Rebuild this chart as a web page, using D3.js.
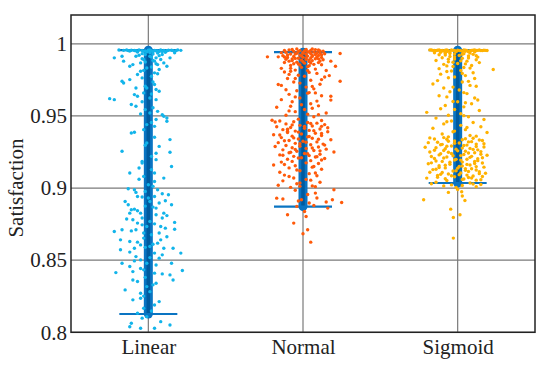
<!DOCTYPE html>
<html><head><meta charset="utf-8">
<script src="https://cdn.jsdelivr.net/npm/d3@7/dist/d3.min.js"></script>
<style>body{margin:0;background:#fff}svg{display:block}</style>
</head><body>
<script>
const categories = ["Linear", "Normal", "Sigmoid"];
const yTicks = [0.8, 0.85, 0.9, 0.95, 1];
const yLabel = "Satisfaction";
const capLow = [0.8127, 0.8872, 0.9035];
const capHigh = [0.9956, 0.9942, 0.9956];
const dotColors = ["#12b4ea", "#ff5a0a", "#ffb200"];

// [value, horizontal jitter in category units]
const linearPoints = [
[0.9957,-0.19],[0.9955,-0.16],[0.9953,-0.13],[0.9956,-0.11],[0.9952,-0.08],[0.9957,-0.06],[0.9954,-0.04],[0.9951,-0.02],[0.9956,0.0],[0.9953,0.02],[0.9955,0.04],[0.9950,0.06],[0.9957,0.08],[0.9954,0.10],[0.9952,0.12],[0.9956,0.15],[0.9953,0.18],[0.9955,0.21],[0.9948,-0.03],[0.9945,0.03],[0.9946,0.07],[0.9943,-0.07],[0.9940,0.01],[0.9942,0.11],
[0.9914,-0.17],[0.9903,-0.22],[0.988,-0.16],[0.9845,-0.12],[0.9856,-0.10],[0.9868,-0.05],[0.988,0.04],[0.9891,0.08],[0.9868,0.10],[0.9845,0.12],[0.9822,0.07],[0.9775,0.02],[0.9787,-0.07],[0.9752,-0.12],
[0.9926,-0.02],[0.9914,0.01],[0.9903,0.05],[0.9891,-0.03],[0.9856,0.06],[0.9833,-0.01],[0.981,-0.05],[0.9799,0.04],[0.9926,0.09],[0.9914,-0.08],[0.9903,0.14],[0.9938,0.17],
[0.9741,-0.17],[0.9729,-0.16],[0.9694,-0.08],[0.9694,-0.01],[0.9718,0.04],[0.9671,0.07],[0.962,-0.25],[0.9613,-0.22],[0.9648,-0.09],[0.9637,-0.07],[0.9613,0.05],[0.966,-0.03],[0.9625,0.01],
[0.9579,-0.11],[0.9567,-0.08],[0.9521,0.01],[0.9532,0.06],[0.9509,0.09],[0.9498,0.10],[0.9486,0.12],[0.9463,0.12],[0.9428,0.04],[0.9382,-0.11],[0.9387,-0.09],[0.944,-0.01],[0.9544,-0.02],[0.9475,0.05],
[0.9336,0.14],[0.9255,-0.17],[0.9248,0.14],[0.9197,0.05],[0.9139,-0.06],[0.915,0.15],[0.9104,-0.12],[0.9104,0.04],[0.9081,-0.03],[0.9069,0.10],[0.9046,0.04],[0.9023,0.0],[0.9312,-0.01],[0.922,0.02],[0.9174,-0.04],[0.9289,0.07],
[0.8988,-0.09],[0.897,-0.08],[0.8977,-0.02],[0.8988,0.06],[0.8907,-0.15],[0.885,-0.11],[0.8826,-0.12],[0.8854,-0.09],[0.8942,-0.07],[0.8931,0.0],[0.8942,0.04],[0.8907,0.01],[0.8896,0.07],[0.8954,0.13],[0.8884,0.15],[0.8826,-0.05],[0.8815,0.05],[0.8792,0.09],[0.8762,0.17],[0.8769,0.01],[0.878,-0.10],[0.8757,-0.07],[0.8734,-0.01],[0.8734,0.08],[0.8715,0.17],[0.8699,-0.22],[0.8711,-0.17],[0.8711,-0.08],[0.8688,-0.03],[0.8688,0.07],[0.8884,-0.13],[0.8861,0.05],[0.8826,0.10],[0.8792,-0.04],
[0.8641,-0.18],[0.863,-0.12],[0.8606,-0.05],[0.8595,0.01],[0.8618,0.06],[0.8583,0.10],[0.8583,-0.09],[0.8549,0.04],[0.8572,-0.18],[0.8583,0.16],[0.8549,0.21],[0.8525,-0.08],[0.8502,-0.05],[0.8479,-0.01],[0.8514,0.07],[0.8479,0.15],[0.8479,-0.17],[0.8456,-0.12],[0.8641,0.08],[0.8653,-0.03],
[0.8414,-0.21],[0.8421,-0.10],[0.8433,-0.03],[0.841,0.04],[0.8398,0.14],[0.8363,0.16],[0.8363,-0.10],[0.8352,-0.07],[0.8294,-0.15],[0.8317,-0.01],[0.8271,-0.05],[0.834,0.05],[0.8428,0.22],[0.8236,-0.05],[0.8225,-0.10],
[0.8213,0.07],[0.8167,-0.03],[0.8132,-0.07],[0.8109,-0.01],[0.8063,-0.11],[0.8074,0.08],[0.8051,0.14],[0.8028,-0.05],[0.8028,0.04],[0.8039,-0.12],
[0.9958,-0.14],[0.9954,-0.09],[0.9957,0.01],[0.9951,0.05],[0.9956,0.13],[0.9953,0.16],[0.9958,0.19],[0.9950,-0.12],[0.9947,0.09],[0.9944,-0.01],[0.9936,0.06],[0.9932,-0.04],[0.9929,0.03],[0.9921,-0.06],[0.9918,0.07],[0.9908,0.02],[0.9897,-0.04],[0.9885,0.03],[0.9874,-0.02],[0.9862,0.05],[0.9839,0.02],[0.9816,-0.03],[0.9793,0.06],[0.9764,-0.04],[0.9735,0.03],[0.9706,-0.02],[0.9683,0.05],[0.9652,0.02],[0.9598,-0.04],[0.9557,0.03],[0.9514,-0.05],[0.9455,0.02],[0.9405,-0.03],[0.9352,0.04],[0.9297,-0.02],[0.9241,0.05],[0.9185,-0.04],[0.9128,0.02],[0.9061,-0.06],[0.9012,0.03],[0.8995,-0.13],[0.8961,0.09],[0.8938,-0.04],[0.8912,0.11],[0.8875,-0.02],[0.8868,0.03],[0.8843,-0.07],[0.8809,0.12],[0.8786,-0.14],[0.8752,0.04],[0.8745,-0.04],[0.8722,0.11],[0.8703,-0.11],[0.8676,0.02],[0.8662,0.12],[0.8625,-0.07],[0.8611,0.03],[0.8589,-0.02],[0.8556,-0.12],[0.8537,0.09],[0.8518,0.01],[0.8495,-0.09],[0.8467,0.05],[0.8442,-0.05],[0.8405,0.09],[0.8381,-0.02],[0.8329,0.03],[0.8282,0.01],[0.8251,-0.03],[0.8189,0.04],[0.8148,0.02],[0.8098,-0.04]
];

const normalPoints = [
[0.9965,-0.04],[0.9962,0.02],[0.9960,0.08],[0.9958,-0.09],[0.9955,0.05],[0.9953,-0.02],[0.9950,0.11],[0.9948,-0.06],[0.9946,0.03],[0.9944,0.07],[0.9942,-0.11],[0.9940,0.0],[0.9938,0.09],[0.9935,-0.04],[0.9933,0.05],[0.9930,-0.08],[0.9928,0.02],[0.9925,0.12],[0.9922,-0.02],[0.9920,0.06],[0.9918,-0.13],[0.9915,0.03],[0.9912,-0.06],[0.9910,0.09],[0.9907,0.0],[0.9905,-0.10],[0.9902,0.05],[0.9900,-0.03],[0.9897,0.08],[0.9895,-0.07],[0.9892,0.02],[0.9890,0.13],[0.9887,-0.01],[0.9884,0.06],[0.9880,-0.09],[0.9877,0.04],[0.9873,-0.04],[0.9870,0.10],[0.9866,0.01],[0.9862,-0.06],[0.9858,0.07],[0.9853,-0.02],[0.9848,0.04],
[0.991,-0.23],[0.991,-0.16],[0.9933,0.24],[0.9845,0.21],[0.9741,0.24],[0.978,0.17],[0.9815,0.15],[0.983,-0.14],[0.988,0.18],[0.976,-0.05],
[0.9830,-0.08],[0.9815,0.03],[0.9805,-0.12],[0.9795,0.09],[0.9782,-0.03],[0.9770,0.14],[0.9760,-0.10],[0.9748,0.05],[0.9735,-0.06],[0.9720,0.11],[0.9712,-0.14],[0.9700,0.02],[0.9688,0.07],[0.9675,-0.04],[0.9662,0.04],[0.9660,0.08],[0.9650,-0.09],[0.9640,0.12],[0.9625,-0.02],[0.9610,0.18],[0.9598,-0.07],[0.9585,0.05],[0.9570,0.10],[0.9560,-0.17],[0.9545,0.01],[0.9530,-0.05],[0.9520,0.15],[0.9505,-0.11],[0.9495,0.07],
[0.9718,-0.16],[0.981,-0.08],[0.9613,-0.14],[0.9567,-0.08],[0.9637,0.18],[0.9509,0.10],[0.9428,0.12],[0.9394,-0.10],
[0.9470,-0.20],[0.9465,-0.15],[0.9460,-0.06],[0.9455,0.03],[0.9450,0.09],[0.9445,-0.11],[0.9440,0.14],[0.9435,-0.02],[0.9430,0.06],[0.9425,-0.17],[0.9420,-0.08],[0.9415,0.01],[0.9410,0.11],[0.9405,-0.13],[0.9400,0.04],[0.9395,-0.05],[0.9390,0.16],[0.9385,-0.10],[0.9380,0.08],[0.9375,-0.01],[0.9370,-0.19],[0.9365,0.12],[0.9360,-0.07],[0.9355,0.03],[0.9350,-0.14],[0.9345,0.06],[0.9340,-0.03],[0.9335,0.18],[0.9330,-0.09],[0.9325,0.00],[0.9320,0.09],[0.9315,-0.16],[0.9310,-0.05],[0.9305,0.13],[0.9300,0.05],[0.9295,-0.11],[0.9290,-0.02],[0.9285,0.10],[0.9280,-0.07],[0.9275,0.02],[0.9270,0.15],[0.9265,-0.13],[0.9260,0.07],[0.9255,-0.04],[0.9250,0.20],[0.9245,-0.09],[0.9240,0.01],[0.9235,0.11],[0.9230,-0.15],[0.9225,0.04],[0.9220,-0.06],[0.9215,0.08],[0.9210,-0.01],[0.9205,0.14],[0.9200,-0.10],
[0.9190,0.05],[0.9180,-0.14],[0.9170,0.10],[0.9160,-0.19],[0.9155,-0.05],[0.9150,0.07],[0.9140,-0.09],[0.9130,0.12],[0.9120,-0.02],[0.9110,-0.15],[0.9100,0.04],[0.9090,-0.12],[0.9085,0.09],[0.9070,-0.06],[0.9060,0.02],[0.9050,-0.13],[0.9040,0.11],[0.9030,-0.04],[0.9020,-0.16],[0.9010,0.08],[0.9005,-0.08],
[0.893,-0.17],[0.8924,-0.13],[0.8965,0.08],[0.8931,0.09],[0.8903,0.15],[0.9012,-0.02],[0.8815,-0.10],[0.8757,-0.06],[0.8803,0.02],[0.8711,0.03],[0.8683,0.0],[0.8625,0.05],[0.8873,-0.04],[0.8838,0.01],[0.8919,-0.01],[0.8896,0.04],[0.8919,0.19],[0.89,0.25],[0.8988,0.20],[0.8861,0.16],
[0.9964,0.06],[0.9961,-0.07],[0.9957,0.10],[0.9954,-0.12],[0.9951,0.01],[0.9949,0.13],[0.9947,-0.03],[0.9943,0.04],[0.9939,-0.14],[0.9936,0.11],[0.9934,0.00],[0.9931,0.14],[0.9929,-0.05],[0.9926,0.08],[0.9923,-0.10],[0.9919,0.10],[0.9916,-0.01],[0.9913,0.06],[0.9909,-0.12],[0.9906,0.12],[0.9903,0.02],[0.9899,-0.05],[0.9896,0.10],[0.9893,-0.11],[0.9889,0.04],[0.9885,-0.07],[0.9881,0.11],[0.9876,0.00],[0.9871,-0.12],[0.9867,0.05],[0.9860,-0.03],[0.9855,0.12],[0.9850,-0.08],[0.9842,0.03],[0.9837,-0.01],[0.9825,0.08],[0.9818,-0.05],[0.9802,0.04],[0.9788,-0.09],[0.9775,0.01],[0.9752,0.12],[0.9728,-0.02],[0.9705,0.06],[0.9682,-0.11],[0.9658,0.03],[0.9632,-0.05],[0.9603,0.09],[0.9578,-0.01],[0.9553,0.06],[0.9535,-0.09],[0.9512,0.03],
[0.9478,-0.03],[0.9468,0.12],[0.9458,-0.18],[0.9448,0.05],[0.9438,-0.07],[0.9428,0.01],[0.9418,0.16],[0.9408,-0.10],[0.9398,0.07],[0.9388,-0.03],[0.9378,0.12],[0.9368,-0.15],[0.9358,0.04],[0.9348,-0.06],[0.9338,0.10],[0.9328,-0.12],[0.9318,0.02],[0.9308,-0.02],[0.9298,0.14],[0.9288,-0.18],[0.9278,0.06],[0.9268,-0.05],[0.9258,0.11],[0.9248,-0.08],[0.9238,0.03],[0.9228,-0.13],[0.9218,0.09],[0.9208,-0.03],[0.9195,0.12],[0.9185,-0.07],[0.9175,0.02],[0.9163,-0.12],[0.9145,0.06],[0.9125,-0.04],[0.9105,0.08],[0.9080,-0.09],[0.9055,0.05],[0.9035,-0.02],[0.9015,0.06],[0.8985,-0.05],[0.8955,0.03],[0.8910,-0.03],[0.8880,0.07]
];

const sigmoidPoints = [
[0.9958,-0.18],[0.9955,-0.16],[0.9953,-0.14],[0.9957,-0.12],[0.9954,-0.10],[0.9956,-0.08],[0.9952,-0.06],[0.9957,-0.04],[0.9954,-0.02],[0.9956,0.0],[0.9953,0.02],[0.9957,0.04],[0.9955,0.06],[0.9952,0.08],[0.9956,0.10],[0.9954,0.12],[0.9957,0.14],[0.9953,0.16],[0.9955,0.18],[0.9950,-0.09],[0.9948,0.03],[0.9946,-0.01],[0.9945,0.07],[0.9943,-0.05],
[0.9938,-0.15],[0.9935,-0.08],[0.9932,0.04],[0.9930,-0.02],[0.9927,0.10],[0.9924,-0.12],[0.9920,0.01],[0.9916,0.07],[0.9912,-0.05],[0.9908,0.13],[0.9904,-0.10],[0.9900,0.03],[0.9895,-0.02],[0.9890,0.12],[0.9885,-0.14],[0.9880,0.06],[0.9875,-0.06],[0.9870,0.14],[0.9864,0.00],[0.9858,-0.09],[0.9850,0.09],[0.9843,-0.03],[0.9836,0.04],[0.9828,-0.12],[0.9822,0.23],[0.9815,0.02],[0.9808,-0.07],[0.9800,0.10],
[0.9790,-0.11],[0.9780,0.05],[0.9770,-0.02],[0.9760,0.11],[0.9745,-0.13],[0.9735,0.03],[0.9722,-0.16],[0.9712,0.08],[0.9706,0.12],[0.9694,-0.09],[0.9680,0.01],[0.9668,-0.05],[0.9655,0.06],[0.9640,-0.12],[0.9625,0.11],[0.9611,0.13],[0.9600,-0.03],[0.9598,0.0],[0.9585,0.09],[0.9572,-0.08],[0.9563,0.04],[0.9550,-0.11],[0.9538,0.14],[0.9525,-0.20],[0.9515,0.02],[0.9505,-0.06],
[0.9495,0.07],[0.9485,-0.14],[0.9475,0.17],[0.9465,-0.04],[0.9455,0.10],[0.9445,-0.09],[0.9435,0.02],[0.9425,0.15],[0.9415,-0.16],[0.9405,0.05],[0.9395,-0.02],[0.9385,0.19],[0.9375,-0.10],[0.9365,0.08],[0.9355,-0.06],
[0.9348,-0.18],[0.9342,0.05],[0.9338,-0.07],[0.9333,0.14],[0.9327,-0.02],[0.9322,0.09],[0.9318,-0.13],[0.9312,0.01],[0.9307,0.17],[0.9303,-0.10],[0.9298,0.06],[0.9292,-0.04],[0.9288,0.12],[0.9283,-0.21],[0.9277,0.03],[0.9273,-0.08],[0.9268,0.10],[0.9262,-0.15],[0.9258,0.0],[0.9253,0.15],[0.9248,-0.06],[0.9243,0.07],[0.9238,-0.11],[0.9233,0.04],[0.9228,0.19],[0.9224,-0.03],[0.9219,-0.17],[0.9213,0.08],[0.9208,-0.09],[0.9204,0.13],[0.9199,-0.01],[0.9194,0.02],[0.9188,-0.14],[0.9184,0.11],[0.9179,-0.05],[0.9174,0.16],[0.9169,-0.19],[0.9164,0.06],[0.9158,-0.08],[0.9153,0.03],[0.9149,0.12],[0.9143,-0.12],[0.9138,0.0],[0.9134,0.09],[0.9128,-0.16],[0.9123,0.05],[0.9118,-0.03],[0.9113,0.14],[0.9108,-0.10],[0.9103,0.18],[0.9098,-0.06],[0.9093,0.01],[0.9088,-0.13],[0.9084,0.10],[0.9078,-0.02],[0.9073,0.07],[0.9069,-0.20],[0.9063,0.04],[0.9058,0.15],[0.9053,-0.07],
[0.9040,-0.14],[0.9035,0.08],[0.9030,-0.17],[0.9028,0.10],[0.9025,0.15],[0.9022,-0.04],[0.9018,0.03],[0.9015,-0.09],[0.9010,0.12],[0.9005,-0.01],
[0.8975,0.026],[0.897,-0.06],[0.8919,-0.22],[0.8914,0.047],[0.8854,-0.045],[0.8815,0.015],[0.8796,-0.028],[0.8653,-0.028],[0.8990,0.0],[0.8945,0.03],
[0.9957,-0.17],[0.9954,-0.15],[0.9956,-0.13],[0.9953,-0.11],[0.9957,-0.07],[0.9955,-0.03],[0.9953,0.01],[0.9956,0.05],[0.9954,0.09],[0.9957,0.11],[0.9955,0.13],[0.9953,0.15],[0.9956,0.17],[0.9954,0.19],[0.9949,0.05],[0.9947,-0.07],[0.9944,0.11],[0.9941,-0.11],
[0.9937,0.08],[0.9933,-0.05],[0.9928,0.03],[0.9922,-0.08],[0.9917,0.12],[0.9910,-0.02],[0.9902,0.07],[0.9893,-0.06],[0.9882,0.02],[0.9872,-0.03],[0.9861,0.05],[0.9847,-0.07],[0.9832,0.08],[0.9812,-0.04],[0.9795,0.03],[0.9765,-0.06],[0.9740,0.07],[0.9700,-0.03],[0.9662,0.04],[0.9632,-0.07],[0.9592,0.05],[0.9545,-0.02],[0.9502,0.04],[0.9460,-0.07],[0.9420,0.06],[0.9390,-0.03],[0.9360,0.12],
[0.9350,-0.09],[0.9345,0.10],[0.9340,-0.15],[0.9335,0.03],[0.9330,0.16],[0.9325,-0.06],[0.9320,0.07],[0.9315,-0.19],[0.9310,-0.02],[0.9305,0.12],[0.9300,-0.11],[0.9295,0.04],[0.9290,-0.07],[0.9285,0.17],[0.9280,-0.14],[0.9275,0.08],[0.9270,-0.01],[0.9265,0.13],[0.9260,-0.09],[0.9255,0.05],[0.9250,-0.18],[0.9245,0.11],[0.9240,-0.04],[0.9235,0.15],[0.9230,-0.12],[0.9225,0.02],[0.9220,0.09],[0.9215,-0.07],[0.9210,0.16],[0.9205,-0.15],[0.9200,0.06],[0.9195,-0.02],[0.9190,0.13],[0.9185,-0.10],[0.9180,0.03],[0.9175,-0.17],[0.9170,0.11],[0.9165,-0.05],[0.9160,0.08],[0.9155,-0.12],[0.9150,0.01],[0.9145,0.17],[0.9140,-0.08],[0.9135,0.05],[0.9130,-0.14],[0.9125,0.12],[0.9120,-0.01],[0.9115,0.07],[0.9110,-0.18],[0.9105,0.02],[0.9100,0.14],[0.9095,-0.11],[0.9090,0.06],[0.9085,-0.04],[0.9080,0.16],[0.9075,-0.13],[0.9070,0.09],[0.9065,-0.08],[0.9060,0.03],[0.9055,0.12]
];
const groups = [linearPoints, normalPoints, sigmoidPoints];

const W = 550, H = 368;
const m = {left: 71, right: 535, top: 15, bottom: 332.3};
const serif = "'Times New Roman','Liberation Serif','DejaVu Serif',serif";

const svg = d3.select("body").append("svg").attr("width", W).attr("height", H);
const x = d3.scaleLinear().domain([0.5, 3.5]).range([m.left, m.right]);
const y = d3.scaleLinear().domain([0.8, 1.02]).range([m.bottom, m.top]);
const xc = i => x(i + 1);

// grid
const g = svg.append("g");
g.selectAll("line.gy").data(yTicks).join("line")
  .attr("x1", m.left).attr("x2", m.right)
  .attr("y1", d => y(d)).attr("y2", d => y(d))
  .attr("stroke", "#7a7a7a").attr("stroke-width", 1.2);
g.selectAll("line.gx").data(categories).join("line")
  .attr("x1", (d, i) => xc(i)).attr("x2", (d, i) => xc(i))
  .attr("y1", m.top).attr("y2", m.bottom)
  .attr("stroke", "#7a7a7a").attr("stroke-width", 1.2);

// range bars
const bars = svg.append("g");
categories.forEach((c, i) => {
  bars.append("line").attr("x1", xc(i)).attr("x2", xc(i))
    .attr("y1", y(capLow[i])).attr("y2", y(capHigh[i]))
    .attr("stroke", "#0a74c2").attr("stroke-width", 9).attr("stroke-linecap", "round");
  bars.append("line").attr("x1", xc(i)).attr("x2", xc(i))
    .attr("y1", y(capLow[i])).attr("y2", y(capHigh[i]))
    .attr("stroke", "#005a9e").attr("stroke-width", 3.5);
  [capLow[i], capHigh[i]].forEach(v => {
    bars.append("line").attr("x1", x(i + 1 - 0.1875)).attr("x2", x(i + 1 + 0.1875))
      .attr("y1", y(v)).attr("y2", y(v))
      .attr("stroke", "#0a74c2").attr("stroke-width", 2.2);
  });
});

// dots
groups.forEach((pts, i) => {
  svg.append("g").selectAll("circle").data(pts).join("circle")
    .attr("cx", d => x(i + 1 + d[1]))
    .attr("cy", d => y(d[0]))
    .attr("r", 1.7)
    .attr("fill", dotColors[i]);
});

// box
svg.append("rect").attr("x", m.left).attr("y", m.top)
  .attr("width", m.right - m.left).attr("height", m.bottom - m.top)
  .attr("fill", "none").attr("stroke", "#222").attr("stroke-width", 1.5);

// axes
const yAxis = d3.axisLeft(y).tickValues(yTicks).tickSize(0).tickPadding(4).tickFormat(d => d3.format("")(+d.toFixed(2)));
const ya = svg.append("g").attr("transform", `translate(${m.left},0)`).call(yAxis);
ya.select(".domain").remove();
ya.selectAll("text").attr("font-family", serif).attr("font-size", 21).attr("fill", "#222");

const xAxis = d3.axisBottom(x).tickValues([1, 2, 3]).tickSize(0).tickPadding(7).tickFormat(d => categories[d - 1]);
const xa = svg.append("g").attr("transform", `translate(0,${m.bottom})`).call(xAxis);
xa.select(".domain").remove();
xa.selectAll("text").attr("font-family", serif).attr("font-size", 21).attr("fill", "#222");

svg.append("text").attr("transform", "translate(18,188) rotate(-90)")
  .attr("text-anchor", "middle").attr("dominant-baseline", "middle")
  .attr("font-family", serif).attr("font-size", 21).attr("fill", "#222").text(yLabel);
</script>
</body></html>
